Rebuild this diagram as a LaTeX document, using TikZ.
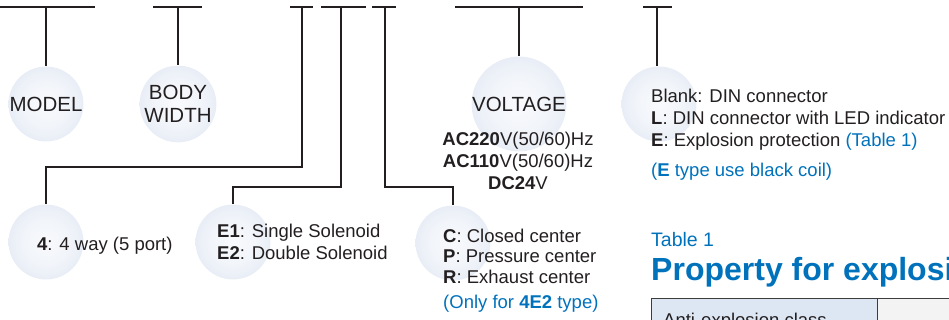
\documentclass[tikz,border=0pt]{standalone}
\usepackage{fontspec}
\setmainfont{Liberation Sans}
\usepackage{xcolor}
\usepackage{tikz}
\usetikzlibrary{calc}
\definecolor{Xline}{RGB}{35,31,32}
\definecolor{Xblue}{RGB}{0,114,188}
\definecolor{Xball}{RGB}{210,220,237}
\definecolor{Xhead}{RGB}{221,231,244}
\definecolor{Xcell}{RGB}{243,243,243}
\definecolor{Xrule}{RGB}{60,60,60}
\pgfdeclareradialshading{ballshade}{\pgfpoint{0bp}{0bp}}{color(0bp)=(white!85!Xball); color(15bp)=(white!70!Xball); color(50bp)=(Xball); color(100bp)=(Xball)}
\newcommand{\bodyfont}{\fontsize{18.5}{22}\selectfont}
\newcommand{\tagfont}{\fontsize{20.5}{23}\selectfont}
\tikzset{
  wire/.style={draw=Xline, line width=1.4pt},
  ball/.style={circle, minimum size=75pt, inner sep=0pt, shade, shading=ballshade, text=Xline, align=center, font=\tagfont},
  info/.style={inner sep=0pt, text=Xline, align=left, font=\bodyfont},
  note/.style={inner sep=0pt, text=Xblue, font=\bodyfont},
  cell/.style={draw=Xrule, line width=0.9pt}
}

\begin{document}
\begin{tikzpicture}[x=1pt, y=-1pt]
  \useasboundingbox (0,0) rectangle (949,320);
  \clip (0,0) rectangle (949,320);
  % code bars
  \foreach \l/\r in {0/95, 153/202, 290/313, 321/366, 372/396, 455/583, 643/672}
    \draw[wire] (\l,7) -- (\r,7);
  \coordinate (b1) at (46,7);
  \coordinate (b2) at (178,7);
  \coordinate (b3) at (302,7);
  \coordinate (b4) at (341,7);
  \coordinate (b5) at (385,7);
  \coordinate (b6) at (519,7);
  \coordinate (b7) at (657,7);
  % balls
  \node[ball] (model) at (46,104) {MODEL};
  \node[ball] (width) at (178,104) {BODY\\WIDTH};
  \node[ball] (volt) at (519,104) {VOLTAGE};
  \node[ball] (coil) at (659,104) {};
  \node[ball] (way) at (46,242) {};
  \node[ball] (sol) at (233,242) {};
  \node[ball] (ctr) at (453,243) {};
  % wires
  \draw[wire] (b1) -- (model.north);
  \draw[wire] (b2) -- (width.north);
  \draw[wire] (b6) -- (volt.north);
  \draw[wire] (b7) -- (b7 |- coil.north);
  \draw[wire] (b3) -- ++(0,160) -| (way.north);
  \draw[wire] (b4) -- ++(0,180) -| (sol.north);
  \draw[wire] (b5) -- ++(0,180) -| (ctr.north);
  % texts
  \node[info, anchor=north, align=center] (volttxt) at (518,131.4)
    {\textbf{AC220}V(50/60)Hz\\\textbf{AC110}V(50/60)Hz\\\textbf{DC24}V};
  \node[info, anchor=north west] (coiltxt) at (651,88.4)
    {Blank: DIN connector\\\textbf{L}: DIN connector with LED indicator\\\textbf{E}: Explosion protection \textcolor{Xblue}{(Table 1)}};
  \node[note, anchor=base west] (coilnote) at (651,177) {(\textbf{E} type use black coil)};
  \node[info, anchor=base west] (waytxt) at (37,250) {\textbf{4}: 4 way (5 port)};
  \node[info, anchor=north west] (soltxt) at (217,223.4)
    {\textbf{E1}: Single Solenoid\\\textbf{E2}: Double Solenoid};
  \node[info, anchor=north west, font=\fontsize{18.5}{20.5}\selectfont] (ctrtxt) at (443,228.4)
    {\textbf{C}: Closed center\\\textbf{P}: Pressure center\\\textbf{R}: Exhaust center};
  \node[note, anchor=base west] (ctrnote) at (443,308) {(Only for \textbf{4E2} type)};
  % table 1
  \node[note, anchor=base west, font=\fontsize{19.5}{22}\selectfont] (tabno) at (651,246) {Table 1};
  \node[note, anchor=base west, font=\fontsize{32}{36}\bfseries] (tabtitle) at (651,280) {Property for explosi};
  \draw[cell, fill=Xhead] (651,298) rectangle (877,340);
  \draw[cell, fill=Xcell] (877,298) rectangle (960,340);
  \node[info, anchor=base west] (tabhead) at (663,326) {Anti-explosion class};
\end{tikzpicture}
\end{document}
